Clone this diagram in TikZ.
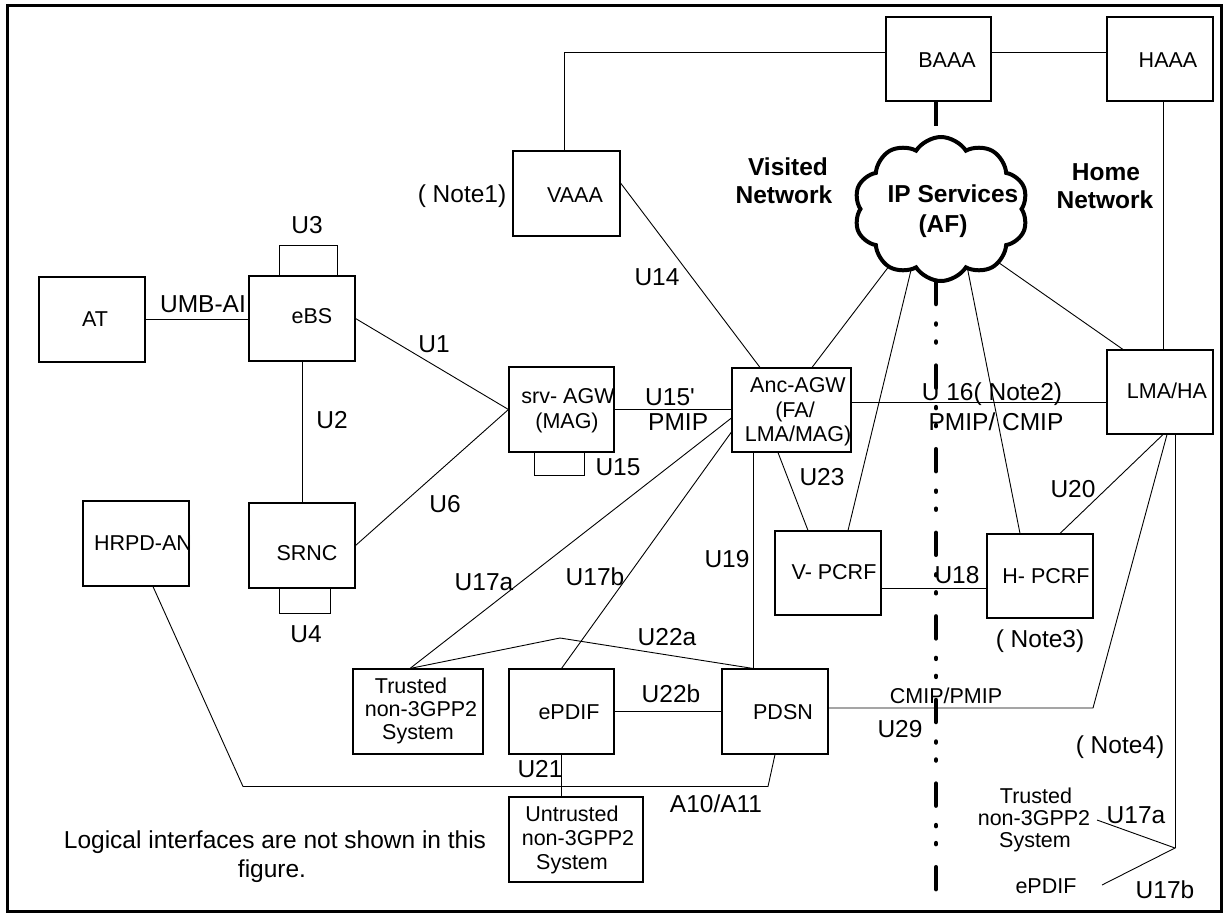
\documentclass[tikz,border=0pt]{standalone}
\usepackage{fontspec}
\setmainfont{Liberation Sans}
\usetikzlibrary{shapes.symbols,calc}
\pgfdeclarelayer{bg}
\pgfsetlayers{bg,main}
\begin{document}
\begin{tikzpicture}[x=1pt,y=-1pt,
  box/.style={draw,line width=1.1pt,minimum width=106pt,minimum height=85pt,inner sep=0pt},
  ln/.style={line width=0.9pt},
  bt/.style={font=\fontsize{21.5}{24}\selectfont,inner sep=0pt,anchor=base},
  lb/.style={font=\fontsize{24.5}{28}\selectfont,inner sep=0pt,anchor=base},
  bl/.style={font=\fontsize{24.5}{28}\selectfont\bfseries,inner sep=0pt,anchor=base},
  thk/.style={line width=4.5pt},
  dashdotdot/.style={line width=4.5pt,line cap=round,dash pattern=on 22pt off 19.5pt on 1pt off 17pt on 1pt off 23.1pt}]
\useasboundingbox (0,0) rectangle (1227,914);
\draw[line width=3pt] (7,5) rectangle (1221,911);

% boxes
\node[box] (at) at (92,319.5) {};
\node[box] (ebs) at (302,318.5) {};
\node[box] (srnc) at (302,545.5) {};
\node[box] (hrpd) at (136,543.5) {};
\node[box,minimum width=107pt] (vaaa) at (566.5,193.5) {};
\node[box,minimum width=105pt,minimum height=84pt] (baaa) at (938.5,59) {};
\node[box,minimum height=84pt] (haaa) at (1160,59) {};
\node[box,minimum width=105pt] (srv) at (561.5,409.5) {};
\node[box,minimum width=119pt,minimum height=84pt] (anc) at (791.5,410) {};
\node[box,minimum height=84pt] (lma) at (1160,392) {};
\node[box,minimum height=84pt] (vpcrf) at (828,573) {};
\node[box,minimum height=84pt] (hpcrf) at (1040,576) {};
\node[box,minimum width=130pt] (trusted) at (418,711.5) {};
\node[box,minimum width=105pt] (epdif) at (561.5,711.5) {};
\node[box] (pdsn) at (775,711.5) {};
\node[box,minimum width=134pt] (untr) at (576,839.5) {};

% cloud
\node[cloud,cloud puffs=10,cloud puff arc=115,draw,fill=white,line width=4pt,minimum width=174pt,minimum height=144pt,inner sep=0pt] (ip) at (941,209) {};

% box texts
\node[bt] (t-at) at (95,326) {AT};
\node[bt] (t-ebs) at (312,323) {eBS};
\node[bt] (t-srnc) at (307,560) {SRNC};
\node[bt] (t-hrpd) at (143,550) {HRPD-AN};
\node[bt] (t-vaaa) at (575,202) {VAAA};
\node[bt] (t-baaa) at (947,67) {BAAA};
\node[bt] (t-haaa) at (1168,67) {HAAA};
\node[bt] (t-lma) at (1167,398) {LMA/HA};
\node[bt] (t-srv1) at (568,403) {srv- AGW};
\node[bt] (t-srv2) at (567,428) {(MAG)};
\node[bt] (t-anc1) at (798,392) {Anc-AGW};
\node[bt] (t-anc2) at (795,417) {(FA/};
\node[bt] (t-anc3) at (798,441) {LMA/MAG)};
\node[bt] (t-vpcrf) at (834,579) {V- PCRF};
\node[bt] (t-hpcrf) at (1046,583) {H- PCRF};
\node[bt] (t-epdif) at (569,719) {ePDIF};
\node[bt] (t-pdsn) at (783,719) {PDSN};
\node[bt] (t-tr1) at (411,693) {Trusted};
\node[bt] (t-tr2) at (421,716) {non-3GPP2};
\node[bt] (t-tr3) at (418,739) {System};
\node[bt] (t-un1) at (572,821) {Untrusted};
\node[bt] (t-un2) at (578,845) {non-3GPP2};
\node[bt] (t-un3) at (572,869) {System};
\node[bl] (t-ip1) at (953,202) {IP Services};
\node[bl] (t-ip2) at (943,232) {(AF)};

% connectors
\draw[ln] (at.east) -- (at.east -| ebs.west);
\draw[ln] (ebs) -- (srnc);
\draw[ln] ($(ebs.north)+(-23,0)$) -- ++(0,-30) -| ($(ebs.north)+(35,0)$);
\draw[ln] ($(srnc.south)+(-23,0)$) -- ++(0,25) -| ($(srnc.south)+(28,0)$);
\draw[ln] (ebs.east) -- (srv.west);
\draw[ln] (srnc.east) -- (srv.west);
\draw[ln] ($(srv.south)+(-27.5,0)$) -- ++(0,23) -| ($(srv.south)+(22.5,0)$);
\draw[ln] (srv.east) -- (srv.east -| anc.west);
\draw[ln] ($(vaaa.east)+(0,-10.5)$) -- ($(anc.north)+(-31.5,0)$);
\draw[ln] ($(vaaa.north)+(-2.5,0)$) |- ($(baaa.west)+(0,-7)$);
\draw[ln] ($(baaa.east)+(0,-7)$) -- ($(haaa.west)+(0,-7)$);
\draw[ln] ($(haaa.south)+(3,0)$) -- ($(lma.north)+(3,0)$);
\draw[ln] ($(anc.south)+(-13.5,0)$) -- ($(vpcrf.north)+(-20,0)$);
\draw[ln] ($(anc.south)+(-38.5,0)$) -- ($(pdsn.north)+(-22,0)$);
\draw[ln] ($(anc.east)+(0,-8)$) -- ($(lma.west)+(0,10)$);
\draw[ln] ($(vpcrf.east)+(0,15)$) -- ($(hpcrf.west)+(0,12)$);
\draw[ln] ($(lma.south)+(3,0)$) -- ($(hpcrf.north)+(20,0)$);
\coordinate (k29) at (1093,708);
\draw[ln] ($(pdsn.east)+(0,-3.5)$) -- (k29) -- ($(lma.south)+(7,0)$);
\coordinate (n4) at (1175,848);
\coordinate (n4a) at (1097,820);
\coordinate (n4b) at (1102,885);
\draw[ln] ($(lma.south)+(15,0)$) -- (n4);
\draw[ln] (n4a) -- (n4) -- (n4b);
\draw[ln] ($(trusted.north)+(-8,0)$) -- ($(anc.west)+(0,8)$);
\draw[ln] (epdif.north) -- ($(anc.west)+(0,22)$);
\coordinate (k22) at (560,638);
\draw[ln] ($(trusted.north)+(-8,0)$) -- (k22) -- ($(pdsn.north)+(-22,0)$);
\draw[ln] (epdif) -- (pdsn);
\draw[ln] (epdif.south) -- (epdif.south |- untr.north);
\coordinate (a1) at (243,786.5);
\coordinate (a2) at (768,786.5);
\draw[ln] ($(hrpd.south)+(17,0)$) -- (a1) -- (a2) -- (pdsn.south);
\draw[thk] ($(baaa.south)+(-2.5,0)$) -- ++(0,24);

\coordinate (dd1) at (936,282);
\coordinate (dd2) at (936,890);
\begin{pgfonlayer}{bg}
\draw[ln] ($(ip.center)+(-45,48)$) -- ($(anc.north)+(20.5,0)$);
\draw[ln] ($(ip.center)+(-25,40.5)$) -- ($(vpcrf.north)+(20,0)$);
\draw[ln] ($(ip.center)+(22,37)$) -- ($(hpcrf.north)+(-20,0)$);
\draw[ln] ($(ip.center)+(31,35)$) -- ($(lma.north)+(-37,0)$);
\draw[dashdotdot] (dd1) -- (dd2);
\end{pgfonlayer}

% labels
\node[lb] (l-umb) at (203,312) {UMB-AI};
\node[lb] (l-u3) at (307,233) {U3};
\node[lb] (l-u2) at (332,428) {U2};
\node[lb] (l-u4) at (306,642) {U4};
\node[lb] (l-u1) at (434,352) {U1};
\node[lb] (l-u6) at (445,512) {U6};
\node[lb] (l-u15) at (618,475) {U15};
\node[lb,anchor=base west] (l-u15p) at (645,405) {U15\textquotesingle};
\node[lb,anchor=base west] (l-pmip) at (648,430) {PMIP};
\node[lb] (l-u14) at (657,285) {U14};
\node[lb] (l-n1) at (462,202) {( Note1)};
\node[bl] (l-vis1) at (788,175) {Visited};
\node[bl] (l-vis2) at (784,203) {Network};
\node[bl] (l-home1) at (1106,180) {Home};
\node[bl] (l-home2) at (1105,208) {Network};
\node[lb] (l-u23) at (822,485) {U23};
\node[lb] (l-u19) at (727,567) {U19};
\node[lb] (l-u17a) at (484,590) {U17a};
\node[lb] (l-u17b) at (595,585) {U17b};
\node[lb] (l-u16) at (992,400) {U 16( Note2)};
\node[lb] (l-pc) at (996,430) {PMIP/ CMIP};
\node[lb] (l-u18) at (957,583) {U18};
\node[lb] (l-u20) at (1073,497) {U20};
\node[lb] (l-n3) at (1040,647) {( Note3)};
\node[lb] (l-u22a) at (667,645) {U22a};
\node[lb] (l-u22b) at (671,702) {U22b};
\node[lb] (l-u21) at (540,777) {U21};
\node[lb] (l-a10) at (716,812) {A10/A11};
\node[bt] (l-cp) at (946,703) {CMIP/PMIP};
\node[lb] (l-u29) at (900,737) {U29};
\node[lb] (l-n4) at (1120,753) {( Note4)};
\node[bt] (l-tr1) at (1036,803) {Trusted};
\node[bt] (l-tr2) at (1034,825) {non-3GPP2};
\node[bt] (l-tr3) at (1035,847) {System};
\node[lb] (l-u17a2) at (1136,823) {U17a};
\node[bt] (l-ep2) at (1046,893) {ePDIF};
\node[lb] (l-u17b2) at (1165,898) {U17b};
\node[lb] (l-foot1) at (275,848) {Logical interfaces are not shown in this};
\node[lb] (l-foot2) at (272,877) {figure.};
\end{tikzpicture}
\end{document}
